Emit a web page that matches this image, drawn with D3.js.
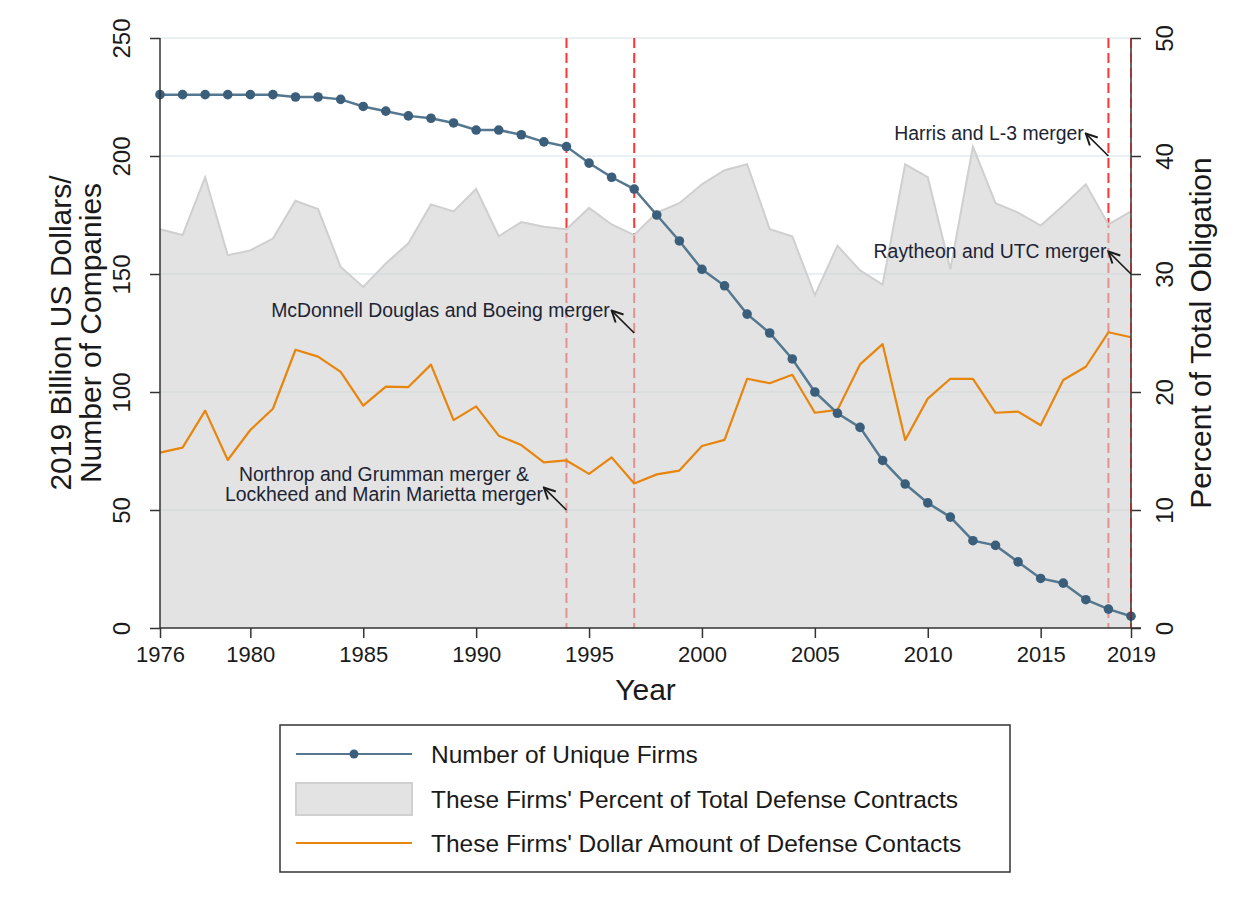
<!DOCTYPE html>
<html>
<head>
<meta charset="utf-8">
<script src="https://cdn.jsdelivr.net/npm/d3@7"></script>
<style>
    body { margin: 0; background: #fff; }
    text { font-family: "Liberation Sans", Arial, sans-serif; fill: #1a1a1a; }
</style>
</head>
<body>
<svg id="chart" width="1252" height="901"></svg>
<script>
// data
var years = d3.range(1976, 2020);

var unique_firms = [226, 226, 226, 226, 226, 226, 225, 225, 224, 221,
    219, 217, 216, 214, 211, 211, 209, 206, 204, 197,
    191, 186, 175, 164, 152, 145, 133, 125, 114, 100,
    91, 85, 71, 61, 53, 47, 37, 35, 28, 21,
    19, 12, 8, 5];

var pct_contracts = [33.8, 33.3, 38.2, 31.6, 32.0, 33.0, 36.2, 35.5, 30.6, 28.9,
    30.9, 32.6, 35.9, 35.3, 37.2, 33.2, 34.4, 34.0, 33.8, 35.6,
    34.2, 33.3, 35.2, 36.0, 37.6, 38.8, 39.3, 33.8, 33.2, 28.2,
    32.4, 30.3, 29.1, 39.3, 38.2, 30.4, 40.8, 36.0, 35.2, 34.1,
    35.8, 37.6, 34.2, 35.3];

var dollar_amount = [74.3, 76.4, 92.1, 71.2, 83.9, 92.9, 117.9, 115.0, 108.5, 94.2,
    102.3, 102.1, 111.6, 88.1, 93.9, 81.5, 77.5, 70.2, 71.0, 65.3,
    72.3, 61.2, 65.1, 66.7, 77.1, 79.7, 105.6, 103.7, 107.3, 91.2,
    92.4, 111.7, 120.3, 79.7, 97.2, 105.6, 105.6, 91.2, 91.7, 85.9,
    105.1, 110.7, 125.3, 123.2];

var x_ticks = [1976, 1980, 1985, 1990, 1995, 2000, 2005, 2010, 2015, 2019];
var left_ticks = [0, 50, 100, 150, 200, 250];
var right_ticks = [0, 10, 20, 30, 40, 50];

var merger_years = [1994, 1997, 2018, 2019];

var notes = [
    { lines: ["Northrop and Grumman merger &", "Lockheed and Marin Marietta merger"], year: 1994, y: 50 },
    { lines: ["McDonnell Douglas and Boeing merger"], year: 1997, y: 125 },
    { lines: ["Harris and L-3 merger"], year: 2018, y: 200 },
    { lines: ["Raytheon and UTC merger"], year: 2019, y: 150 }
];

var legend_labels = ["Number of Unique Firms",
    "These Firms' Percent of Total Defense Contracts",
    "These Firms' Dollar Amount of Defense Contacts"];

var margin = { left: 160, right: 1131, top: 38, bottom: 628 };
var svg = d3.select("#chart");

var x = d3.scaleLinear().domain([1976, 2019]).range([margin.left, margin.right]);
var y = d3.scaleLinear().domain([0, 250]).range([margin.bottom, margin.top]);
var y2 = d3.scaleLinear().domain([0, 50]).range([margin.bottom, margin.top]);

var blue_line = "#557890";
var blue_dot = "#3b5f7b";
var orange = "#e8850c";

draw_grid();
draw_merger_lines();
draw_area();
draw_lines();
draw_axes();
draw_notes();
add_legend();

function draw_grid() {
    svg.append("g").selectAll("line")
        .data(left_ticks.slice(1))
        .enter()
        .append("line")
        .attr("x1", margin.left)
        .attr("x2", margin.right)
        .attr("y1", function (d) { return y(d); })
        .attr("y2", function (d) { return y(d); })
        .attr("stroke", "#e8f0f1")
        .attr("stroke-width", 2);
}

function draw_merger_lines() {
    svg.append("g").selectAll("line")
        .data(merger_years.slice(0, 3))
        .enter()
        .append("line")
        .attr("x1", function (d) { return x(d); })
        .attr("x2", function (d) { return x(d); })
        .attr("y1", margin.top)
        .attr("y2", margin.bottom)
        .attr("stroke", "#ff3535")
        .attr("stroke-width", 2)
        .attr("stroke-dasharray", "10,5");
}

function draw_area() {
    var area = d3.area()
        .x(function (d, i) { return x(years[i]); })
        .y0(y2(0))
        .y1(function (d) { return y2(d); });

    svg.append("path")
        .datum(pct_contracts)
        .attr("d", area)
        .attr("fill", "#d0d0d0")
        .attr("fill-opacity", 0.6);

    var top_line = d3.line()
        .x(function (d, i) { return x(years[i]); })
        .y(function (d) { return y2(d); });

    svg.append("path")
        .datum(pct_contracts)
        .attr("d", top_line)
        .attr("fill", "none")
        .attr("stroke", "#cfcfcf")
        .attr("stroke-width", 2);
}

function draw_lines() {
    var line = d3.line()
        .x(function (d, i) { return x(years[i]); })
        .y(function (d) { return y(d); });

    svg.append("path")
        .datum(dollar_amount)
        .attr("d", line)
        .attr("fill", "none")
        .attr("stroke", orange)
        .attr("stroke-width", 2.2)
        .attr("stroke-linejoin", "round");

    svg.append("path")
        .datum(unique_firms)
        .attr("d", line)
        .attr("fill", "none")
        .attr("stroke", blue_line)
        .attr("stroke-width", 2.5);

    svg.selectAll(".dot")
        .data(unique_firms)
        .enter()
        .append("circle")
        .attr("class", "dot")
        .attr("cx", function (d, i) { return x(years[i]); })
        .attr("cy", function (d) { return y(d); })
        .attr("r", 4.8)
        .style("fill", blue_dot);
}

function draw_axes() {
    // left axis
    var left = svg.append("g")
        .attr("transform", "translate(" + margin.left + ",0)")
        .call(d3.axisLeft(y).tickValues(left_ticks).tickSize(10).tickFormat(d3.format("d")));
    left.selectAll("text")
        .attr("transform", "translate(-38,0) rotate(-90)")
        .attr("x", 0).attr("y", 0).attr("dy", "0.35em")
        .style("text-anchor", "middle")
        .style("font-size", "24px");

    // bottom axis
    var bottom = svg.append("g")
        .attr("transform", "translate(0," + margin.bottom + ")")
        .call(d3.axisBottom(x).tickValues(x_ticks).tickSize(10).tickPadding(8).tickFormat(d3.format("d")));
    bottom.selectAll("text").style("font-size", "22px");
    bottom.select(".domain").attr("d", "M" + margin.left + ",0H" + (margin.right + 10));

    // right axis
    var right = svg.append("g")
        .attr("transform", "translate(" + margin.right + ",0)")
        .call(d3.axisRight(y2).tickValues(right_ticks).tickSize(10));
    right.selectAll("text")
        .attr("transform", "translate(34,0) rotate(-90)")
        .attr("x", 0).attr("y", 0).attr("dy", "0.35em")
        .style("text-anchor", "middle")
        .style("font-size", "24px");

    svg.selectAll(".domain").attr("stroke", "#333").attr("stroke-width", 1.5);
    svg.selectAll(".tick line").attr("stroke", "#333").attr("stroke-width", 1.5);
    svg.selectAll(".tick text").style("fill", "#1a1a1a").style("font-family", "Liberation Sans, Arial, sans-serif");
    left.select(".domain").attr("d", "M0," + margin.top + "V" + margin.bottom);
    right.select(".domain").attr("d", "M0," + margin.top + "V" + margin.bottom);

    // 2019 merger line sits on the right axis
    svg.append("line")
        .attr("x1", x(merger_years[3]))
        .attr("x2", x(merger_years[3]))
        .attr("y1", margin.top)
        .attr("y2", margin.bottom)
        .attr("stroke", "#c01818")
        .attr("stroke-width", 1.5)
        .attr("stroke-dasharray", "10,5")
        .attr("opacity", 0.7);

    svg.append("text")
        .text("Year")
        .attr("x", (margin.left + margin.right) / 2)
        .attr("y", 700)
        .style("text-anchor", "middle")
        .style("font-size", "30px");

    var left_title = ["2019 Billion US Dollars/", "Number of Companies"];
    svg.selectAll(".ltitle")
        .data(left_title)
        .enter()
        .append("text")
        .attr("class", "ltitle")
        .text(function (d) { return d; })
        .attr("transform", function (d, i) { return "translate(" + (60 + i * 30) + "," + 333 + ") rotate(-90)"; })
        .attr("dy", "0.35em")
        .style("text-anchor", "middle")
        .style("font-size", "30px");

    svg.append("text")
        .text("Percent of Total Obligation")
        .attr("transform", "translate(1200,333) rotate(-90)")
        .attr("dy", "0.35em")
        .style("text-anchor", "middle")
        .style("font-size", "30px");
}

function draw_notes() {
    svg.append("defs").append("marker")
        .attr("id", "arrow")
        .attr("viewBox", "0 0 10 10")
        .attr("refX", 1).attr("refY", 5)
        .attr("markerWidth", 14).attr("markerHeight", 14)
        .attr("markerUnits", "userSpaceOnUse")
        .attr("orient", "auto")
        .append("path")
        .attr("d", "M9,1 L1,5 L9,9")
        .attr("fill", "none")
        .attr("stroke", "#1a1a1a")
        .attr("stroke-width", 1.4);

    notes.forEach(function (n) {
        var tx = x(n.year), ty = y(n.y);
        var hx = x(n.year - 1), hy = y(n.y + 9.5);
        svg.append("line")
            .attr("x1", hx).attr("y1", hy)
            .attr("x2", tx).attr("y2", ty)
            .attr("stroke", "#1a1a1a")
            .attr("stroke-width", 1.6)
            .attr("marker-start", "url(#arrow)");

        var t = svg.append("text")
            .style("font-size", "19.4px")
            .style("fill", "#1c2433");
        if (n.lines.length === 1) {
            t.attr("x", hx - 2).attr("y", hy).attr("dy", "0.35em")
                .style("text-anchor", "end")
                .text(n.lines[0]);
        } else {
            t.style("text-anchor", "middle");
            n.lines.forEach(function (l, i) {
                t.append("tspan")
                    .attr("x", 384)
                    .attr("y", hy - 13 + i * 20)
                    .attr("dy", "0.35em")
                    .text(l);
            });
        }
    });
}

function add_legend() {
    var lg = svg.append("g");
    lg.append("rect")
        .attr("x", 280).attr("y", 725)
        .attr("width", 730).attr("height", 147)
        .attr("fill", "#fff")
        .attr("stroke", "#333")
        .attr("stroke-width", 1.5);

    var rows = [754, 799, 843];

    lg.append("line")
        .attr("x1", 296).attr("x2", 412)
        .attr("y1", rows[0]).attr("y2", rows[0])
        .attr("stroke", blue_line).attr("stroke-width", 2.2);
    lg.append("circle")
        .attr("cx", 354).attr("cy", rows[0]).attr("r", 4.5)
        .style("fill", blue_dot);

    lg.append("rect")
        .attr("x", 296).attr("y", rows[1] - 16)
        .attr("width", 116).attr("height", 32)
        .attr("fill", "#e3e3e3")
        .attr("stroke", "#d0d0d0")
        .attr("stroke-width", 2);

    lg.append("line")
        .attr("x1", 296).attr("x2", 412)
        .attr("y1", rows[2]).attr("y2", rows[2])
        .attr("stroke", orange).attr("stroke-width", 2.2);

    lg.selectAll(".ltext")
        .data(legend_labels)
        .enter()
        .append("text")
        .attr("class", "ltext")
        .attr("x", 431)
        .attr("y", function (d, i) { return rows[i]; })
        .attr("dy", "0.35em")
        .style("font-size", "24.5px")
        .text(function (d) { return d; });
}
</script>
</body>
</html>
